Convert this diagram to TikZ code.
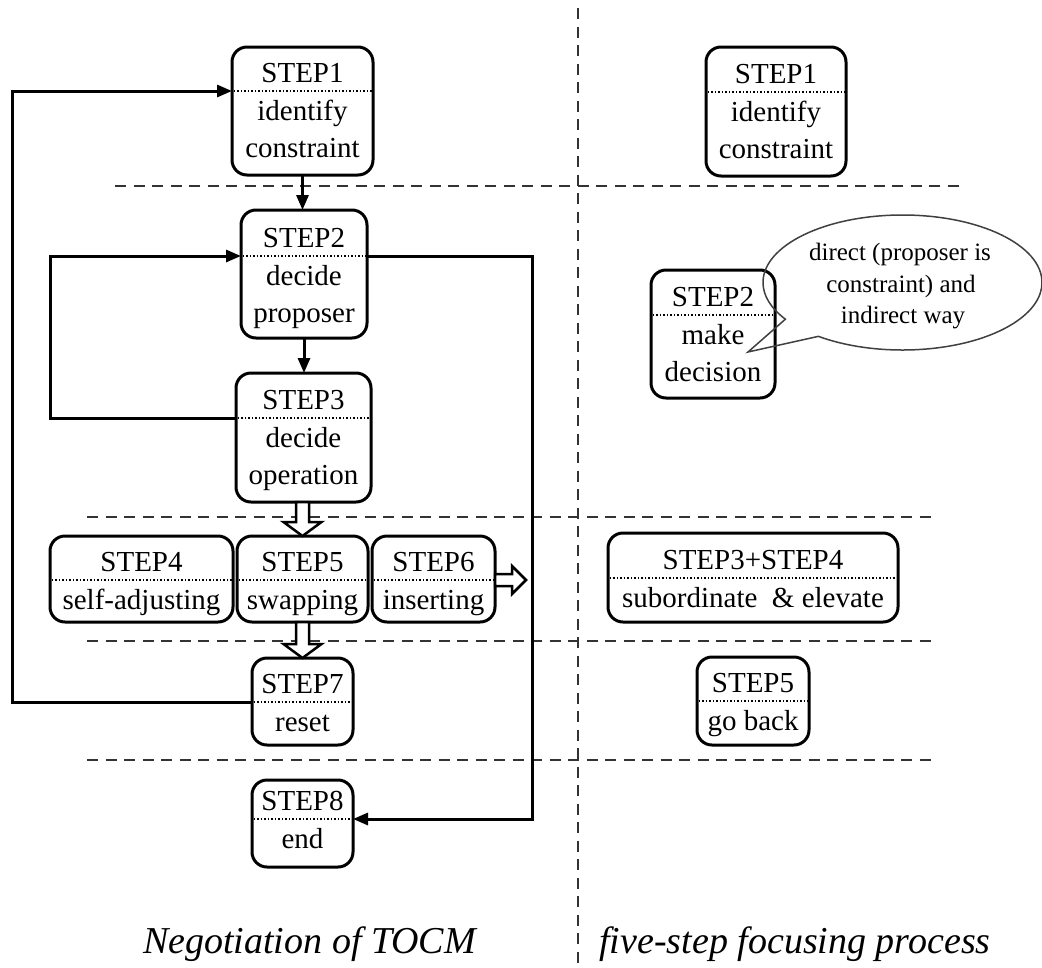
\documentclass[tikz,border=0pt]{standalone}
\usepackage{fontspec}
\setmainfont{Liberation Serif}
\usetikzlibrary{arrows.meta,shapes.callouts,calc}

\tikzset{
  stepshape/.style={draw, line width=3pt, rounded corners=15pt, inner sep=0pt, outer sep=0pt},
  steptext/.style={anchor=base, inner sep=0pt, font=\fontsize{29}{35}\selectfont},
  notetext/.style={anchor=base, inner sep=0pt, font=\fontsize{25}{30}\selectfont},
  dotline/.style={line width=2pt, dash pattern=on 1.5pt off 2pt},
  conn/.style={line width=3pt, -{Triangle[length=15pt,width=12pt]}},
  sepline/.style={line width=2.5pt, dash pattern=on 11pt off 7.5pt, draw=black!80},
  hollow/.style={draw, line width=2.5pt, fill=white, line join=miter},
  caption/.style={anchor=base, inner sep=0pt, font=\fontsize{38}{42}\selectfont\itshape},
}

% rounded step box: name, x1, y1, x2, y2, dotted-line y, title, body line 1, body line 2
\newcommand\stepbox[9]{%
  \node[stepshape, minimum width={#4-#2}, minimum height={#5-#3}] (#1) at ({(#2+#4)/2},{(#3+#5)/2}) {};
  \coordinate (#1-dl) at (#2,#6);
  \coordinate (#1-dr) at (#4,#6);
  \draw[dotline] ([xshift=1.5pt]#1-dl) -- ([xshift=-1.5pt]#1-dr);
  \node[steptext] (#1-t) at ({(#2+#4)/2},#6-9) {#7};
  \node[steptext] (#1-a) at ({(#2+#4)/2},#6+29) {#8};
  \if\relax\detokenize{#9}\relax\else
    \node[steptext] (#1-b) at ({(#2+#4)/2},#6+66) {#9};
  \fi
}

\begin{document}
\begin{tikzpicture}[x=1pt, y=-1pt]
  \fill[white] (0,0) rectangle (1042,967);
  \path[use as bounding box] (0,0) rectangle (1042,967);

  % separators between the stages
  \draw[sepline] (578,8) -- (578,967);
  \draw[sepline] (115,186) -- (963,186);
  \draw[sepline] (87,517) -- (935,517);
  \draw[sepline] (87,641) -- (935,641);
  \draw[sepline] (87,760) -- (935,760);

  % negotiation steps
  \stepbox{s1}{232}{47}{373}{175}{91}{STEP1}{identify}{constraint}
  \stepbox{s2}{241}{210}{367}{338}{256}{STEP2}{decide}{proposer}
  \stepbox{s3}{236}{373}{371}{502}{418}{STEP3}{decide}{operation}
  \stepbox{s4}{50}{536}{233}{622}{580}{STEP4}{self-adjusting}{}
  \stepbox{s5}{237}{536}{368}{622}{580}{STEP5}{swapping}{}
  \stepbox{s6}{372}{536}{495}{622}{580}{STEP6}{inserting}{}
  \stepbox{s7}{252}{658}{353}{745}{702}{STEP7}{reset}{}
  \stepbox{s8}{252}{780}{353}{867}{819}{STEP8}{end}{}

  % five-step focusing process
  \stepbox{r1}{706}{47}{846}{176}{92}{STEP1}{identify}{constraint}
  \stepbox{r2}{651}{270}{775}{398}{315}{STEP2}{make}{decision}
  \stepbox{r3}{608}{533}{898}{622}{578}{STEP3+STEP4}{subordinate\ \ \& elevate}{}
  \stepbox{r5}{697}{657}{809}{745}{701}{STEP5}{go back}{}

  % speech bubble attached to the decision step
  \node[ellipse callout, draw=black!75, line width=1.5pt, minimum width=279pt,
        minimum height=135pt, inner sep=0pt, callout pointer arc=20,
        callout absolute pointer={(748,352)}] (bubble) at (902.5,282.5) {};
  \node[notetext] (note1) at (900,260) {direct (proposer is};
  \node[notetext] (note2) at (901,292) {constraint) and};
  \node[notetext] (note3) at (903,323) {indirect way};

  % straight connectors
  \draw[conn] (s1.south) -- (s1.south |- s2.north);
  \draw[conn] (s2.south) -- (s2.south |- s3.north);

  % feedback loops
  \coordinate (outerx) at (12,0);
  \coordinate (innerx) at (50,0);
  \coordinate (rightx) at (532,0);
  \draw[conn] (s7-dl) -- (s7-dl -| outerx) -- (s1-dl -| outerx) -- (s1-dl);
  \draw[conn] (s3-dl) -- (s3-dl -| innerx) -- (s2-dl -| innerx) -- (s2-dl);
  \draw[conn] (s2-dr) -- (s2-dr -| rightx) -- (s8-dr -| rightx) -- (s8-dr);

  % hollow block arrows
  \draw[hollow] ($(s3.south -| s5.north)+(-6.5,0)$) -- ($(s5.north)+(-6.5,-14)$)
    -- ($(s5.north)+(-19,-14)$) -- (s5.north) -- ($(s5.north)+(19,-14)$)
    -- ($(s5.north)+(6.5,-14)$) -- ($(s3.south -| s5.north)+(6.5,0)$) -- cycle;
  \draw[hollow] ($(s5.south)+(-6.5,0)$) -- ($(s5.south |- s7.north)+(-6.5,-14)$)
    -- ($(s5.south |- s7.north)+(-19,-14)$) -- (s5.south |- s7.north)
    -- ($(s5.south |- s7.north)+(19,-14)$) -- ($(s5.south |- s7.north)+(6.5,-14)$)
    -- ($(s5.south)+(6.5,0)$) -- cycle;
  \draw[hollow] ($(s6-dr)+(0,-6)$) -- ($(s6-dr)+(17,-6)$) -- ($(s6-dr)+(17,-14)$)
    -- ($(s6-dr)+(31,0)$) -- ($(s6-dr)+(17,14)$) -- ($(s6-dr)+(17,6)$)
    -- ($(s6-dr)+(0,6)$) -- cycle;

  % captions
  \node[caption] (capL) at (309.5,953) {Negotiation of TOCM};
  \node[caption] (capR) at (795,953) {five-step focusing process};
\end{tikzpicture}
\end{document}
